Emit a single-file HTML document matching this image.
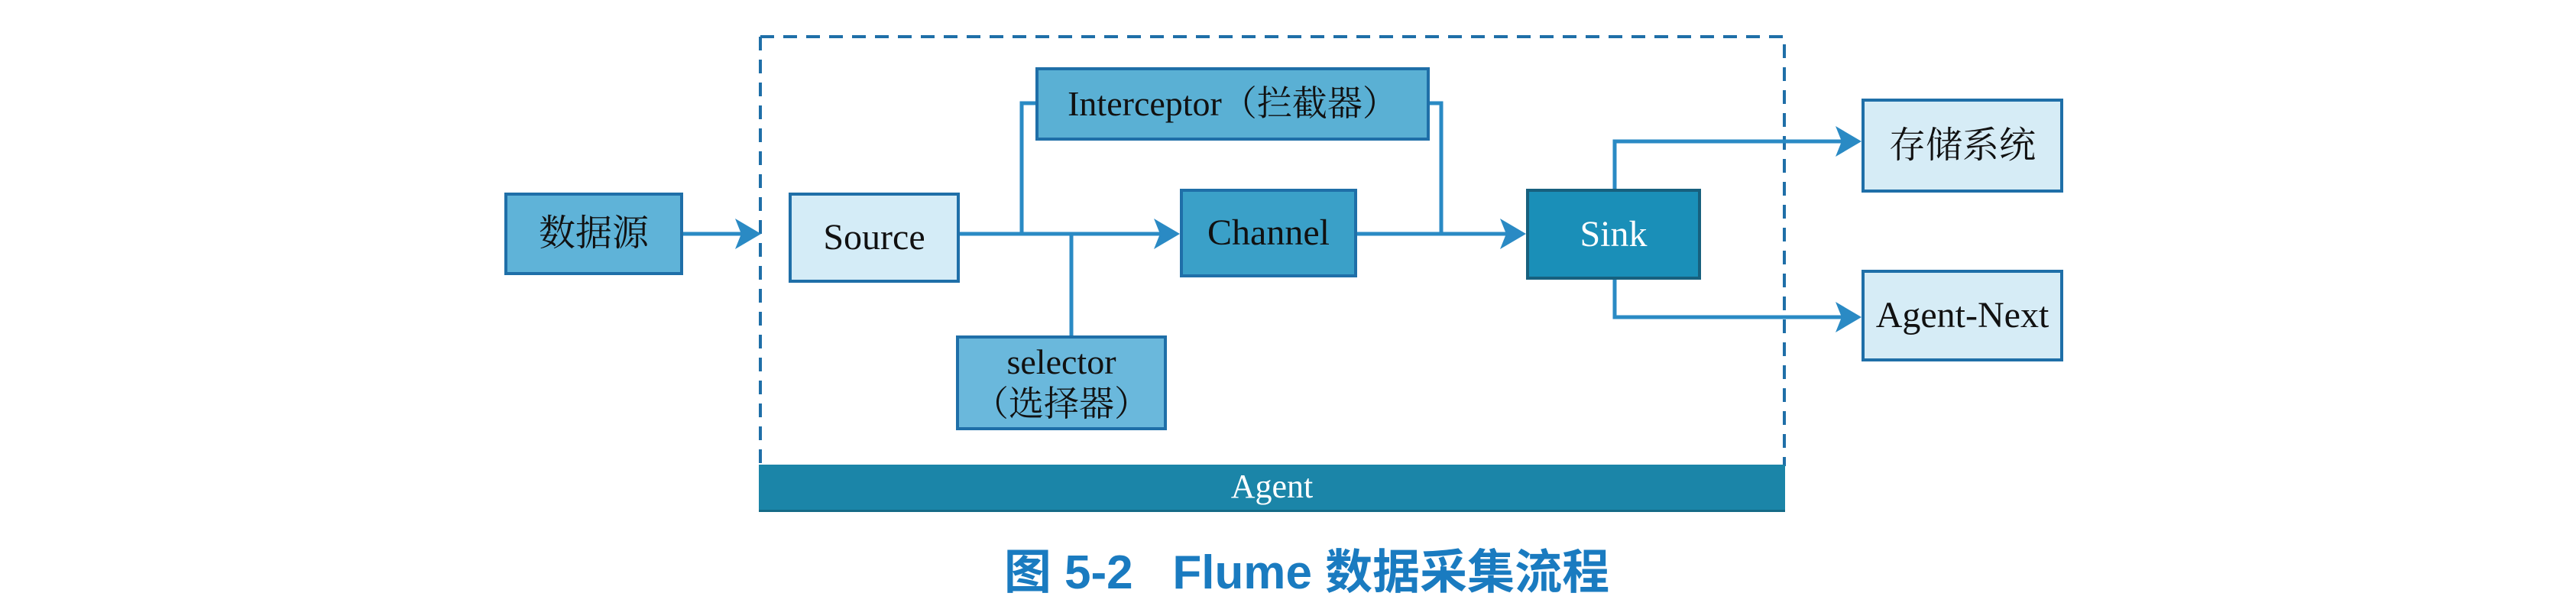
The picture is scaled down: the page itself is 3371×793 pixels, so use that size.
<!DOCTYPE html>
<html><head><meta charset="utf-8"><style>
body{margin:0;width:3371px;height:793px;background:#fff;position:relative;overflow:hidden;font-family:"Liberation Serif","Noto Serif CJK SC",serif;}
.b{position:absolute;box-sizing:border-box;border:4px solid #1f6fa8;display:flex;align-items:center;justify-content:center;text-align:center;color:#111;font-size:48px;line-height:1.2;}
svg{position:absolute;left:0;top:0}
</style></head><body>
<svg width="3371" height="793">
<g stroke="#1f6fa8" stroke-width="4" stroke-dasharray="18,12" fill="none">
<path d="M995,48 H2335 V610 M995,48 V610"/>
</g>
<g stroke="#2a8ac4" stroke-width="5" fill="none">
<path d="M892,306 H990"/>
<path d="M1256,306 H1540"/>
<path d="M1337,306 V135 H1357"/>
<path d="M1869,135 H1886 V306"/>
<path d="M1776,306 H1993"/>
<path d="M1402,306 V440"/>
<path d="M2113,249 V185 H2430"/>
<path d="M2113,364 V415 H2430"/>
</g>
<g fill="#2a8ac4">
<path d="M962,286 L996,306 L962,326 L970,306z"/>
<path d="M1510,286 L1544,306 L1510,326 L1518,306z"/>
<path d="M1963,286 L1997,306 L1963,326 L1971,306z"/>
<path d="M2402,165 L2436,185 L2402,205 L2410,185z"/>
<path d="M2402,395 L2436,415 L2402,435 L2410,415z"/>
</g>
</svg>
<div class="b" style="left:660px;top:252px;width:234px;height:108px;background:#5fb3d8;">数据源</div>
<div class="b" style="left:1032px;top:252px;width:224px;height:118px;background:#d4ecf7;">Source</div>
<div class="b" style="left:1355px;top:88px;width:516px;height:96px;background:#5ab0d4;font-size:46px;">Interceptor（拦截器）</div>
<div class="b" style="left:1544px;top:247px;width:232px;height:116px;background:#3aa0c8;">Channel</div>
<div class="b" style="left:1251px;top:439px;width:276px;height:124px;background:#6ab8dc;font-size:46px;">selector<br>（选择器）</div>
<div class="b" style="left:1997px;top:247px;width:229px;height:119px;background:#1a8fb8;color:#fff;border-color:#17607e;">Sink</div>
<div class="b" style="left:2436px;top:129px;width:264px;height:123px;background:#d6ecf6;">存储系统</div>
<div class="b" style="left:2436px;top:353px;width:264px;height:120px;background:#d6ecf6;">Agent-Next</div>
<div class="b" style="left:993px;top:608px;width:1343px;height:62px;background:#1b85a8;color:#fff;border:none;border-bottom:3px solid #156a86;font-size:44px;">Agent</div>
<div style="position:absolute;left:1050px;width:1320px;top:710px;text-align:center;font-family:'Liberation Sans','Noto Sans CJK SC',sans-serif;font-weight:bold;font-size:62px;color:#1a7bc0;line-height:80px;">图 5-2&nbsp;&nbsp;&nbsp;Flume 数据采集流程</div>
</body></html>
